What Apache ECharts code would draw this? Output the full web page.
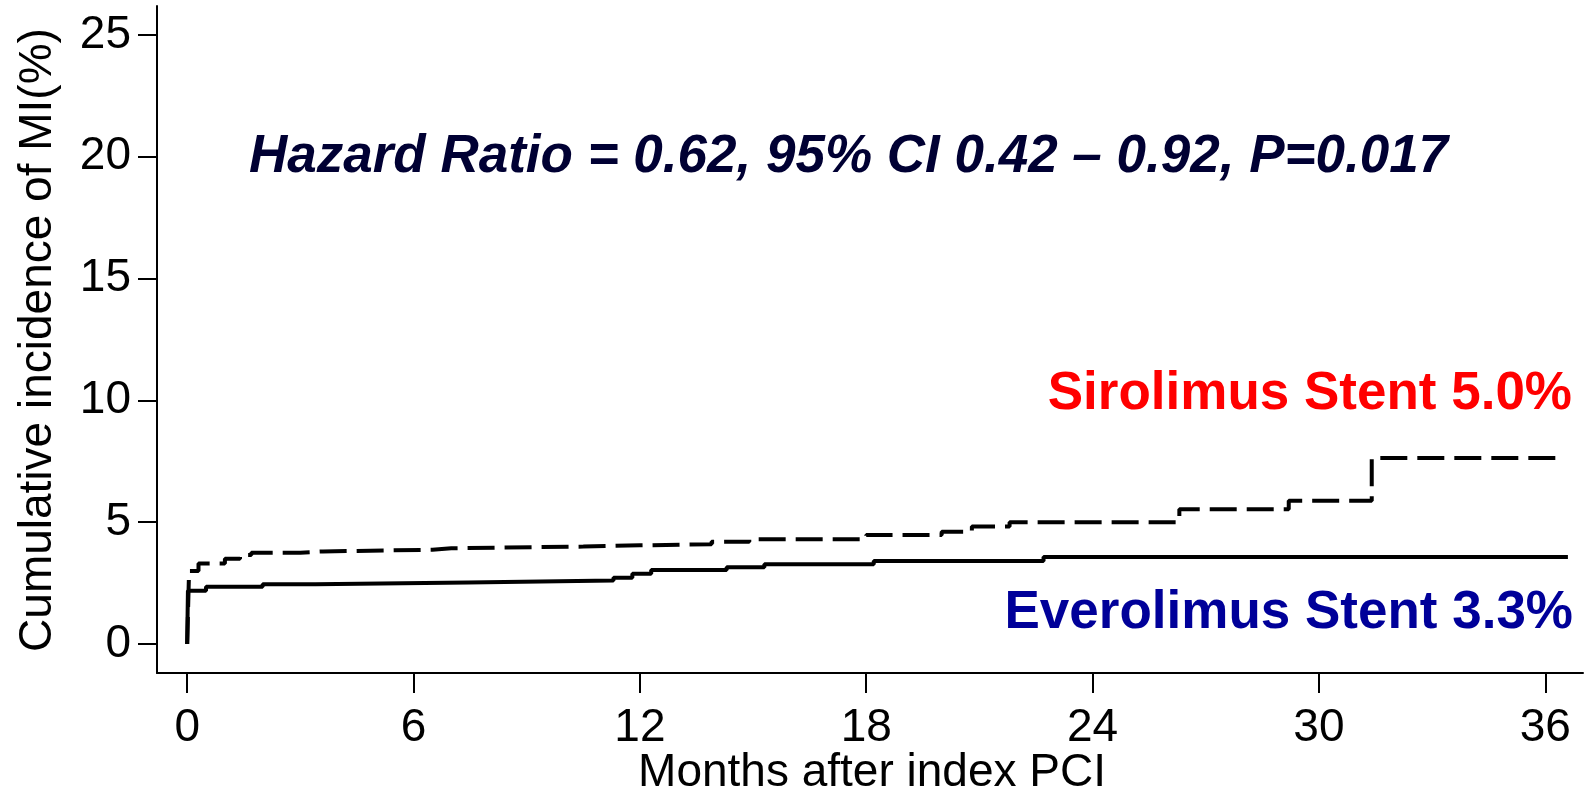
<!DOCTYPE html>
<html>
<head>
<meta charset="utf-8">
<script src="https://cdn.jsdelivr.net/npm/echarts@6/dist/echarts.min.js"></script>
<style>
html,body{margin:0;padding:0;background:#fff;}
#chart{width:1596px;height:791px;}
</style>
</head>
<body>
<div id="chart"></div>
<script>
// ---- data ----
const xTicks = [0, 6, 12, 18, 24, 30, 36];
const yTicks = [0, 5, 10, 15, 20, 25];

const everolimusMonths = [0, 0.02, 0.5, 2.0, 3.4, 7.45, 11.3, 11.8, 12.3, 14.3, 15.3, 18.2, 22.7, 36.6];
const everolimusPct    = [0, 2.19, 2.35, 2.45, 2.53, 2.61, 2.72, 2.88, 3.04, 3.15, 3.27, 3.41, 3.57, 3.57];

const sirolimusMonths = [0, 0.05, 0.3, 1.0, 1.4, 1.7, 3.0, 3.6, 6.5, 7.0, 10.5, 12.0, 13.9, 14.9, 18.0, 20.0, 20.8, 21.8, 26.3, 29.2, 31.4, 36.5];
const sirolimusPct    = [0, 3.0, 3.3, 3.5, 3.65, 3.75, 3.8, 3.87, 3.93, 4.0, 4.05, 4.1, 4.2, 4.3, 4.47, 4.61, 4.82, 5.0, 5.53, 5.88, 7.64, 7.64];

const xTitle = 'Months after index PCI';
const yTitle = 'Cumulative incidence of MI(%)';
const hrText = 'Hazard Ratio = 0.62, 95% CI 0.42 \u2013 0.92, P=0.017';
const siroLabel = 'Sirolimus Stent 5.0%';
const everoLabel = 'Everolimus Stent 3.3%';

const FONT = '"Liberation Sans", Arial, Helvetica, sans-serif';

const chart = echarts.init(document.getElementById('chart'));
const zip = (a, b) => a.map((v, i) => [v, b[i]]);

chart.setOption({
  animation: false,
  grid: { left: 157, right: 13, top: 6, bottom: 118, containLabel: false },
  xAxis: {
    type: 'value', min: -0.8, max: 37,
    splitLine: { show: false },
    axisLine: { show: true, onZero: false, lineStyle: { color: '#000', width: 2 } },
    axisTick: { show: true, customValues: xTicks, length: 20, lineStyle: { color: '#000', width: 2 } },
    axisLabel: { show: true, customValues: xTicks, margin: 32, color: '#000', fontSize: 46, fontFamily: FONT }
  },
  yAxis: {
    type: 'value', min: -1.19, max: 26.19,
    splitLine: { show: false },
    axisLine: { show: true, onZero: false, lineStyle: { color: '#000', width: 2 } },
    axisTick: { show: true, customValues: yTicks, length: 19, lineStyle: { color: '#000', width: 2 } },
    axisLabel: { show: true, customValues: yTicks, margin: 26, color: '#000', fontSize: 46, fontFamily: FONT }
  },
  series: [
    {
      name: 'Everolimus', type: 'line', step: 'end', symbol: 'none',
      data: zip(everolimusMonths, everolimusPct),
      lineStyle: { color: '#000', width: 4, type: 'solid' }
    },
    {
      name: 'Sirolimus', type: 'line', step: 'end', symbol: 'none',
      data: zip(sirolimusMonths, sirolimusPct),
      lineStyle: { color: '#000', width: 4, type: [27, 10], cap: 'butt' }
    }
  ],
  graphic: [
    { type: 'text', x: 872, y: 773, style: { text: xTitle, font: '46px ' + FONT, fill: '#000', textAlign: 'center', textVerticalAlign: 'middle' } },
    { type: 'text', x: 38, y: 340, rotation: Math.PI / 2, style: { text: yTitle, font: '46px ' + FONT, fill: '#000', textAlign: 'center', textVerticalAlign: 'middle' } },
    { type: 'text', x: 249, y: 157, style: { text: hrText, font: 'italic bold 53px ' + FONT, fill: '#000033', textAlign: 'left', textVerticalAlign: 'middle' } },
    { type: 'text', x: 1572, y: 394, style: { text: siroLabel, font: 'bold 53px ' + FONT, fill: '#ff0000', textAlign: 'right', textVerticalAlign: 'middle' } },
    { type: 'text', x: 1573, y: 613, style: { text: everoLabel, font: 'bold 53px ' + FONT, fill: '#000099', textAlign: 'right', textVerticalAlign: 'middle' } }
  ]
});
</script>
</body>
</html>
